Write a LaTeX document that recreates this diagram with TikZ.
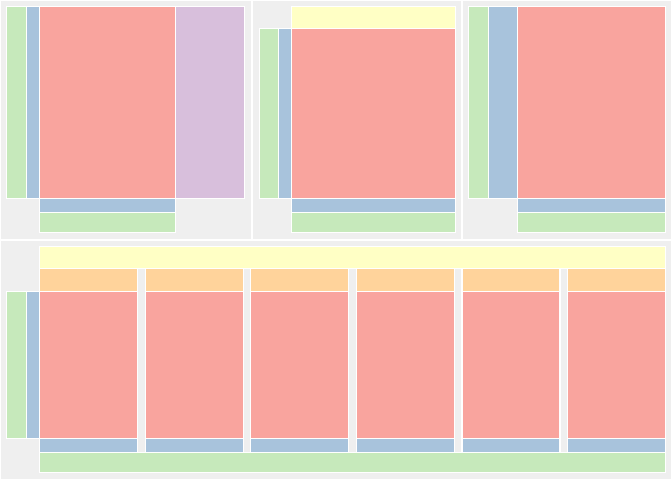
\documentclass[tikz,border=0pt]{standalone}
\usetikzlibrary{calc}
\definecolor{panelgray}{HTML}{EFEFEF}
\definecolor{cellred}{HTML}{F9A49E}
\definecolor{cellblue}{HTML}{A8C3DC}
\definecolor{cellgreen}{HTML}{C6E9BB}
\definecolor{cellpurple}{HTML}{D8BFDC}
\definecolor{cellorange}{HTML}{FFD39B}
\definecolor{cellyellow}{HTML}{FFFFC5}
\tikzset{
    panel/.style = {fill=panelgray, draw=white, line width=1.5pt},
    cell/.style = {draw=white, line width=1.2pt},
    red/.style = {cell, fill=cellred},
    blue/.style = {cell, fill=cellblue},
    green/.style = {cell, fill=cellgreen},
    purple/.style = {cell, fill=cellpurple},
    orange/.style = {cell, fill=cellorange},
    yellow/.style = {cell, fill=cellyellow}
}

\begin{document}
\begin{tikzpicture}[x=1pt, y=-1pt]
        \useasboundingbox[fill=white] (0,0) rectangle (672,480);
        % panels
        \draw [panel] (0.5,0.5) rectangle (251.5,239.5);
        \draw [panel] (252.5,0.5) rectangle (461.5,239.5);
        \draw [panel] (462.5,0.5) rectangle (671.5,239.5);
        \draw [panel] (0.5,240.5) rectangle (671.5,479.5);
        % first panel
        \draw [green] (6.5,6.5) rectangle (26.5,198.5);
        \draw [blue] (26.5,6.5) rectangle (39.5,198.5);
        \draw [red] (39.5,6.5) rectangle (175.5,198.5);
        \draw [purple] (175.5,6.5) rectangle (244.5,198.5);
        \draw [blue] (39.5,198.5) rectangle (175.5,212.5);
        \draw [green] (39.5,212.5) rectangle (175.5,232.5);
        % second panel
        \draw [yellow] (291.5,6.5) rectangle (455.5,28.5);
        \draw [green] (259.5,28.5) rectangle (278.5,198.5);
        \draw [blue] (278.5,28.5) rectangle (291.5,198.5);
        \draw [red] (291.5,28.5) rectangle (455.5,198.5);
        \draw [blue] (291.5,198.5) rectangle (455.5,212.5);
        \draw [green] (291.5,212.5) rectangle (455.5,232.5);
        % third panel
        \draw [green] (468.5,6.5) rectangle (488.5,198.5);
        \draw [blue] (488.5,6.5) rectangle (517.5,198.5);
        \draw [red] (517.5,6.5) rectangle (665.5,198.5);
        \draw [blue] (517.5,198.5) rectangle (665.5,212.5);
        \draw [green] (517.5,212.5) rectangle (665.5,232.5);
        % bottom panel
        \draw [yellow] (39.5,246.5) rectangle (665.5,268.5);
        \draw [green] (6.5,291.5) rectangle (26.5,438.5);
        \draw [blue] (26.5,291.5) rectangle (39.5,438.5);
        \foreach \i in {0,1,...,5}{
            \pgfmathsetmacro{\xl}{39.5+105.6*\i}
            \pgfmathsetmacro{\xr}{\xl+98}
            \draw [orange] (\xl,268.5) rectangle (\xr,291.5);
            \draw [red] (\xl,291.5) rectangle (\xr,438.5);
            \draw [blue] (\xl,438.5) rectangle (\xr,452.5);
        }
        \draw [green] (39.5,452.5) rectangle (665.5,472.5);
\end{tikzpicture}
\end{document}
